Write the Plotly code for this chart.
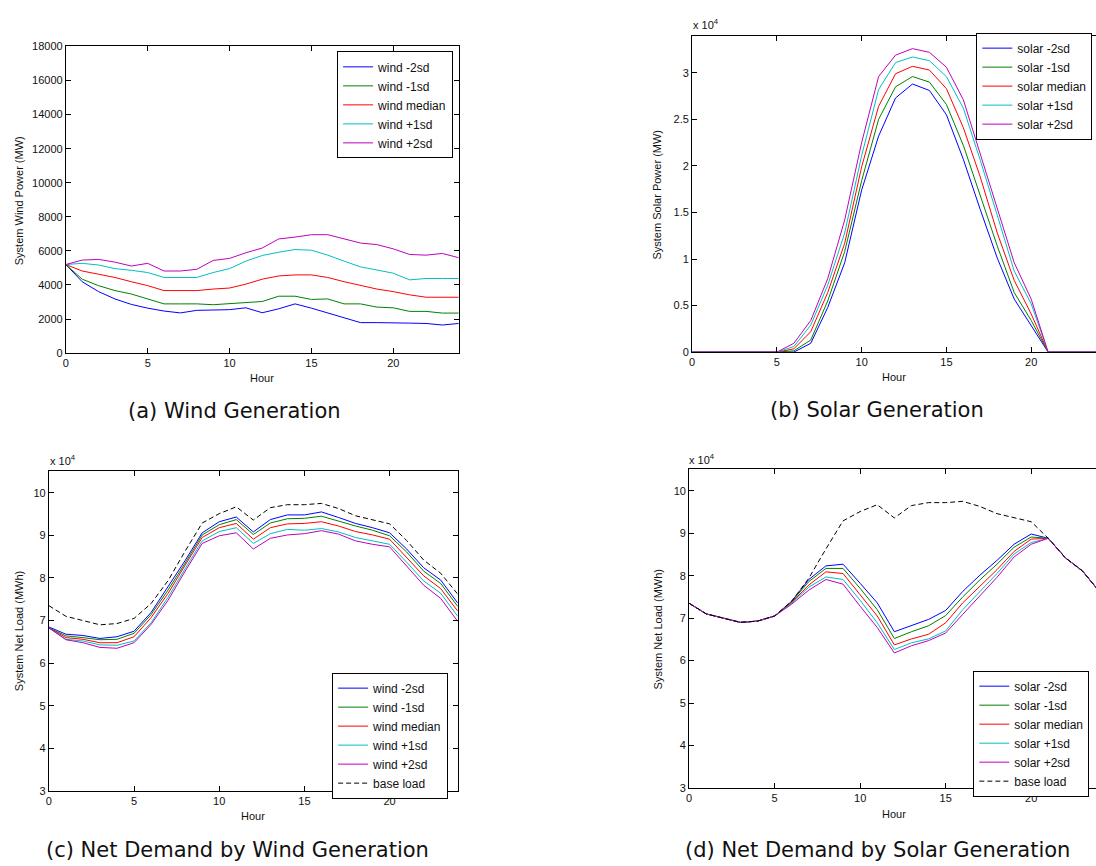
import plotly.graph_objects as go

# ---- data -------------------------------------------------------------
hours = list(range(25))

# system wind power (MW)
wind_m2sd = [5200, 4190, 3610, 3180, 2860, 2640, 2470, 2360, 2510, 2550, 2550, 2660, 2370,
             2600, 2890, 2640, 2350, 2060, 1790, 1790, 1790, 1760, 1740, 1650, 1740]
wind_m1sd = [5200, 4340, 3960, 3670, 3470, 3180, 2890, 2890, 2890, 2840, 2890, 2950, 3030,
             3340, 3340, 3150, 3180, 2890, 2890, 2700, 2660, 2450, 2450, 2350, 2350]
wind_med = [5200, 4820, 4630, 4440, 4190, 3960, 3670, 3650, 3670, 3760, 3820, 4050, 4340,
            4530, 4590, 4590, 4440, 4190, 3960, 3760, 3610, 3420, 3280, 3280, 3280]
wind_p1sd = [5200, 5270, 5170, 4960, 4860, 4730, 4440, 4440, 4440, 4730, 4960, 5400, 5730,
             5920, 6080, 6040, 5750, 5400, 5060, 4880, 4690, 4300, 4380, 4380, 4380]
wind_p2sd = [5200, 5460, 5500, 5340, 5110, 5270, 4820, 4820, 4920, 5440, 5560, 5890, 6170,
             6700, 6810, 6950, 6950, 6700, 6460, 6370, 6120, 5790, 5750, 5850, 5600]

# system solar power (x 10^4 MW)
solar_m2sd = [0, 0, 0, 0, 0, 0, 0.0, 0.095, 0.48, 0.96, 1.74, 2.32, 2.73,
              2.88, 2.81, 2.55, 2.07, 1.53, 1.01, 0.57, 0.29, 0, 0, 0, 0]
solar_m1sd = [0, 0, 0, 0, 0, 0, 0.014, 0.13, 0.55, 1.08, 1.84, 2.50, 2.85,
              2.96, 2.90, 2.66, 2.22, 1.67, 1.14, 0.64, 0.34, 0, 0, 0, 0]
solar_med = [0, 0, 0, 0, 0, 0, 0.035, 0.22, 0.64, 1.17, 1.99, 2.64, 2.99,
             3.07, 3.03, 2.83, 2.41, 1.88, 1.28, 0.77, 0.41, 0, 0, 0, 0]
solar_p1sd = [0, 0, 0, 0, 0, 0, 0.06, 0.29, 0.72, 1.28, 2.11, 2.82, 3.11,
              3.17, 3.13, 2.96, 2.62, 2.06, 1.47, 0.87, 0.52, 0, 0, 0, 0]
solar_p2sd = [0, 0, 0, 0, 0, 0, 0.095, 0.34, 0.79, 1.42, 2.25, 2.96, 3.19,
              3.26, 3.22, 3.06, 2.71, 2.13, 1.56, 0.96, 0.57, 0, 0, 0, 0]

# base load (x 10^4 MWh)
base_load = [7.35, 7.10, 7.00, 6.90, 6.93, 7.05, 7.40, 7.94, 8.63, 9.29, 9.51, 9.67, 9.36,
             9.65, 9.72, 9.72, 9.75, 9.63, 9.46, 9.37, 9.27, 8.88, 8.42, 8.11, 7.62]

# net load after wind (x 10^4 MWh)
net_wind_m2sd = [6.85, 6.68, 6.65, 6.58, 6.62, 6.75, 7.19, 7.79, 8.41, 9.06, 9.32, 9.43, 9.08,
                 9.37, 9.48, 9.48, 9.55, 9.42, 9.28, 9.18, 9.06, 8.68, 8.24, 7.95, 7.41]
net_wind_m1sd = [6.83, 6.64, 6.60, 6.55, 6.56, 6.70, 7.14, 7.72, 8.35, 9.01, 9.25, 9.37, 9.02,
                 9.29, 9.39, 9.40, 9.45, 9.33, 9.22, 9.12, 8.99, 8.61, 8.16, 7.87, 7.33]
net_wind_med = [6.83, 6.60, 6.56, 6.48, 6.48, 6.62, 7.07, 7.64, 8.30, 8.95, 9.18, 9.28, 8.91,
                9.18, 9.27, 9.28, 9.32, 9.22, 9.09, 9.01, 8.91, 8.49, 8.05, 7.75, 7.22]
net_wind_p1sd = [6.83, 6.56, 6.52, 6.43, 6.42, 6.52, 6.95, 7.55, 8.22, 8.87, 9.09, 9.18, 8.81,
                 9.04, 9.14, 9.12, 9.16, 9.08, 8.95, 8.87, 8.79, 8.37, 7.93, 7.64, 7.10]
net_wind_p2sd = [6.83, 6.55, 6.48, 6.37, 6.35, 6.48, 6.91, 7.48, 8.16, 8.81, 8.99, 9.06, 8.68,
                 8.93, 9.01, 9.04, 9.11, 9.03, 8.87, 8.79, 8.73, 8.29, 7.83, 7.52, 6.98]

# net load after solar (x 10^4 MWh)
net_solar_m2sd = [7.35, 7.10, 7.00, 6.90, 6.93, 7.05, 7.40, 7.91, 8.23, 8.27, 7.82, 7.36, 6.68,
                  6.83, 6.97, 7.18, 7.63, 8.01, 8.36, 8.74, 8.98, 8.88, 8.42, 8.11, 7.62]
net_solar_m1sd = [7.35, 7.10, 7.00, 6.90, 6.93, 7.05, 7.39, 7.86, 8.17, 8.17, 7.70, 7.20, 6.52,
                  6.68, 6.82, 7.06, 7.50, 7.90, 8.27, 8.67, 8.91, 8.88, 8.42, 8.11, 7.62]
net_solar_med = [7.35, 7.10, 7.00, 6.90, 6.93, 7.05, 7.37, 7.78, 8.09, 8.05, 7.55, 7.05, 6.37,
                 6.51, 6.62, 6.89, 7.36, 7.76, 8.14, 8.57, 8.86, 8.88, 8.42, 8.11, 7.62]
net_solar_p1sd = [7.35, 7.10, 7.00, 6.90, 6.93, 7.05, 7.35, 7.73, 7.97, 7.91, 7.42, 6.89, 6.26,
                  6.42, 6.51, 6.70, 7.20, 7.63, 8.05, 8.51, 8.78, 8.88, 8.42, 8.11, 7.62]
net_solar_p2sd = [7.35, 7.10, 7.00, 6.90, 6.93, 7.05, 7.33, 7.66, 7.91, 7.80, 7.28, 6.78, 6.18,
                  6.35, 6.47, 6.65, 7.09, 7.53, 7.96, 8.44, 8.74, 8.88, 8.42, 8.11, 7.62]

band_suffix = ["-2sd", "-1sd", "median", "+1sd", "+2sd"]
band_colors = ["rgb(0,0,255)", "rgb(0,128,0)", "rgb(255,0,0)", "rgb(0,191,191)", "rgb(191,0,191)"]

# ---- figure -----------------------------------------------------------
W, H = 1096, 866
TICK_FONT = dict(family="Liberation Sans, Arial, sans-serif", size=11, color="#111")
LEG_FONT = dict(family="Liberation Sans, Arial, sans-serif", size=12, color="#111")
SUB_FONT = dict(family="DejaVu Sans, sans-serif", size=21, color="#111")
LABEL_FONT = dict(family="Liberation Sans, Arial, sans-serif", size=11, color="#111")

fig = go.Figure()

panels = [
    # (x-axis id, y-axis id, legend id, name prefix, band series, base load)
    ("x", "y", "legend", "wind",
     [wind_m2sd, wind_m1sd, wind_med, wind_p1sd, wind_p2sd], None),
    ("x2", "y2", "legend2", "solar",
     [solar_m2sd, solar_m1sd, solar_med, solar_p1sd, solar_p2sd], None),
    ("x3", "y3", "legend3", "wind",
     [net_wind_m2sd, net_wind_m1sd, net_wind_med, net_wind_p1sd, net_wind_p2sd], base_load),
    ("x4", "y4", "legend4", "solar",
     [net_solar_m2sd, net_solar_m1sd, net_solar_med, net_solar_p1sd, net_solar_p2sd], base_load),
]

for xa, ya, leg, prefix, series, base in panels:
    for vals, suf, col in zip(series, band_suffix, band_colors):
        fig.add_trace(go.Scatter(
            x=hours, y=vals, mode="lines", name=f"{prefix} {suf}",
            line=dict(color=col, width=1), xaxis=xa, yaxis=ya, legend=leg))
    if base is not None:
        fig.add_trace(go.Scatter(
            x=hours, y=base, mode="lines", name="base load",
            line=dict(color="black", width=1, dash="5px,3px"),
            xaxis=xa, yaxis=ya, legend=leg))


def px_dom(a, b, total):
    return [a / total, b / total]


def ydom(top, bottom):
    return [1 - bottom / H, 1 - top / H]


def xaxis_style(domain, anchor, rng):
    return dict(domain=domain, anchor=anchor, range=rng, tickvals=[0, 5, 10, 15, 20],
                ticks="inside", ticklen=5, tickcolor="black", showline=True,
                linecolor="black", linewidth=1, mirror="ticks", showgrid=False,
                zeroline=False, tickfont=TICK_FONT)


def yaxis_style(domain, anchor, rng, dtick, mirror=True, fmt=None):
    d = dict(domain=domain, anchor=anchor, range=rng, dtick=dtick, tick0=0,
             ticks="inside", ticklen=5, tickcolor="black", showline=True,
             linecolor="black", linewidth=1, mirror="ticks" if mirror else False,
             showgrid=False, zeroline=False, tickfont=TICK_FONT)
    if fmt:
        d["tickformat"] = fmt
    return d


legend_common = dict(bgcolor="white", bordercolor="black", borderwidth=1,
                     font=LEG_FONT, xanchor="left", yanchor="top",
                     tracegroupgap=0, itemwidth=30)

fig.update_layout(
    width=W, height=H, autosize=False,
    margin=dict(l=0, r=0, t=0, b=0),
    paper_bgcolor="white", plot_bgcolor="white",
    xaxis=xaxis_style(px_dom(63, 457, W), "y", [0, 24]),
    yaxis=yaxis_style(ydom(41, 352), "x", [0, 18000], 2000, fmt="d"),
    xaxis2=xaxis_style(px_dom(691, 1096, W), "y2", [0, 405 / 17.0]),
    yaxis2=yaxis_style(ydom(30, 351), "x2", [0, 3.4], 0.5, mirror=False),
    xaxis3=xaxis_style(px_dom(46, 456, W), "y3", [0, 24]),
    yaxis3=yaxis_style(ydom(472, 796), "x3", [3, 10.5], 1),
    xaxis4=xaxis_style(px_dom(688, 1096, W), "y4", [0, 408 / 17.15]),
    yaxis4=yaxis_style(ydom(470, 793), "x4", [3, 10.5], 1, mirror=False),
    legend=dict(x=335 / W, y=1 - 46 / H, **legend_common),
    legend2=dict(x=976 / W, y=1 - 27 / H, **legend_common),
    legend3=dict(x=330 / W, y=1 - 676 / H, **legend_common),
    legend4=dict(x=973 / W, y=1 - 674 / H, **legend_common),
)

# axis titles, exponent labels and sub-captions
ann = []


def text(x, y, s, font, angle=0, xanchor="center", yanchor="middle"):
    ann.append(dict(x=x / W, y=1 - y / H, xref="paper", yref="paper", text=s,
                    showarrow=False, font=font, textangle=angle,
                    xanchor=xanchor, yanchor=yanchor))


text(260, 377, "Hour", LABEL_FONT)
text(893, 376, "Hour", LABEL_FONT)
text(251, 821, "Hour", LABEL_FONT)
text(893, 819, "Hour", LABEL_FONT)
text(16, 197, "System Wind Power (MW)", LABEL_FONT, angle=-90)
text(656, 191, "System Solar Power (MW)", LABEL_FONT, angle=-90)
text(16, 634, "System Net Load (MWh)", LABEL_FONT, angle=-90)
text(657, 632, "System Net Load (MWh)", LABEL_FONT, angle=-90)
text(690, 18, "x 10<sup>4</sup>", LABEL_FONT, xanchor="left")
text(45, 460, "x 10<sup>4</sup>", LABEL_FONT, xanchor="left")
text(686, 459, "x 10<sup>4</sup>", LABEL_FONT, xanchor="left")

text(232, 411, "(a) Wind Generation", SUB_FONT)
text(876, 410, "(b) Solar Generation", SUB_FONT)
text(235, 856, "(c) Net Demand by Wind Generation", SUB_FONT)
text(877, 856, "(d) Net Demand by Solar Generation", SUB_FONT)

fig.update_layout(annotations=ann)

fig.write_html("out.html")
